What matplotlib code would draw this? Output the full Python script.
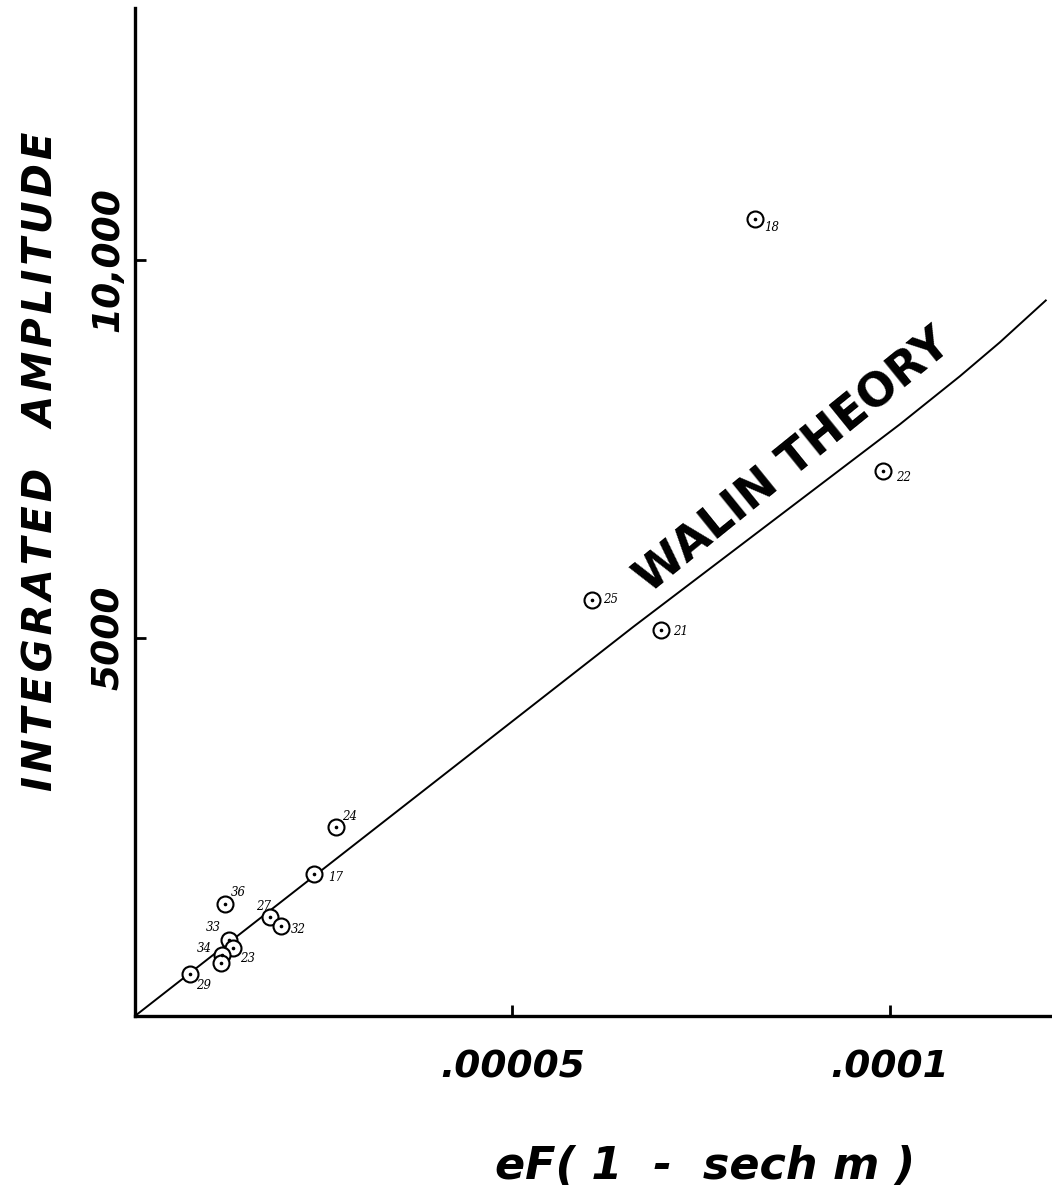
"""
Integrated amplitude vs eF(1 - sech m), with the Walin theory curve.
Recreation of a hand-lettered figure.
"""

import matplotlib
matplotlib.use("Agg")
import matplotlib.pyplot as plt

# measured points (run number, x, integrated amplitude)
RUN_LABELS = ["18", "22", "25", "21", "24", "17", "36", "27", "32",
              "33", "23", "34", "", "29"]
X_VALS = [8.21e-5, 9.91e-5, 6.05e-5, 6.97e-5, 2.66e-5, 2.37e-5, 1.19e-5,
          1.79e-5, 1.93e-5, 1.24e-5, 1.30e-5, 1.15e-5, 1.14e-5, 0.73e-5]
Y_VALS = [10530, 7200, 5500, 5105, 2495, 1875, 1480,
          1305, 1190, 1005, 895, 805, 700, 555]
# label offsets in pixels (dx, dy)
LABEL_OFFSETS = [(17, -8), (20, -6), (19, 0), (19, -2), (14, 11), (22, -3),
                 (14, 12), (-7, 11), (18, -4), (-15, 12), (14, -10),
                 (-17, 7), (0, 0), (13, -11)]

# Walin theory curve
THEORY_X = [0.0, 6.601e-5, 1.0133e-4, 1.0926e-4, 1.1455e-4, 1.2064e-4]
THEORY_Y = [0.0, 5145, 7823, 8457, 8905, 9459]

X_TICKS = [0.00005, 0.0001]
X_TICKLABELS = [".00005", ".0001"]
Y_TICKS = [5000, 10000]
Y_TICKLABELS = ["5000", "10,000"]

FONT = "DejaVu Sans"
HAIR = "\u200a"


def spaced(s, n=1):
    # hand lettering is spread out a bit more than the font
    return (HAIR * n).join(s)


fig = plt.figure(figsize=(10.52, 11.95), dpi=100)
fig.patch.set_facecolor("white")
ax = fig.add_axes([0.1283, 0.1498, 0.8698, 0.8435])

ax.plot(THEORY_X, THEORY_Y, color="black", linewidth=1.4)

ax.plot(X_VALS, Y_VALS, linestyle="none", marker="o", markersize=11.5,
        markerfacecolor="white", markeredgecolor="black", markeredgewidth=1.5)
ax.plot(X_VALS, Y_VALS, linestyle="none", marker="o", markersize=1.6,
        color="black")

for lab, x, y, (dx, dy) in zip(RUN_LABELS, X_VALS, Y_VALS, LABEL_OFFSETS):
    if not lab:
        continue
    ax.annotate(lab, (x, y), xytext=(dx, dy), textcoords="offset pixels",
                ha="center", va="center", fontsize=8.5, style="italic",
                family="DejaVu Serif")

ax.text(8.92e-5, 7100, "WALIN THEORY", rotation=39,
        rotation_mode="anchor", ha="center", va="bottom", fontsize=33,
        fontweight="bold", family=FONT)

ax.set_xlim(0, 0.0001212)
ax.set_ylim(0, 13325)

ax.set_xticks(X_TICKS)
ax.set_xticklabels(X_TICKLABELS, fontsize=27, fontweight="bold",
                   style="italic", family=FONT)
ax.set_yticks(Y_TICKS)
ax.set_yticklabels(Y_TICKLABELS, fontsize=27, fontweight="bold",
                   style="italic", family=FONT, rotation=90, va="center")

ax.tick_params(axis="both", direction="in", length=8, width=2)
ax.tick_params(axis="x", pad=24)
ax.tick_params(axis="y", pad=6)

for side in ["top", "right"]:
    ax.spines[side].set_visible(False)
for side in ["left", "bottom"]:
    ax.spines[side].set_linewidth(2.4)

ax.set_ylabel(spaced("INTEGRATED") + "   " + spaced("AMPLITUDE"),
              fontsize=29, fontweight="bold", style="italic", family=FONT)
ax.yaxis.set_label_coords(-0.08, 0.55)
ax.set_xlabel("eF( 1  -  sech m )", fontsize=32, fontweight="bold",
              style="italic", family=FONT)
ax.xaxis.set_label_coords(0.623, -0.128)

fig.savefig("out.png", dpi=100, facecolor="white")
plt.close(fig)
